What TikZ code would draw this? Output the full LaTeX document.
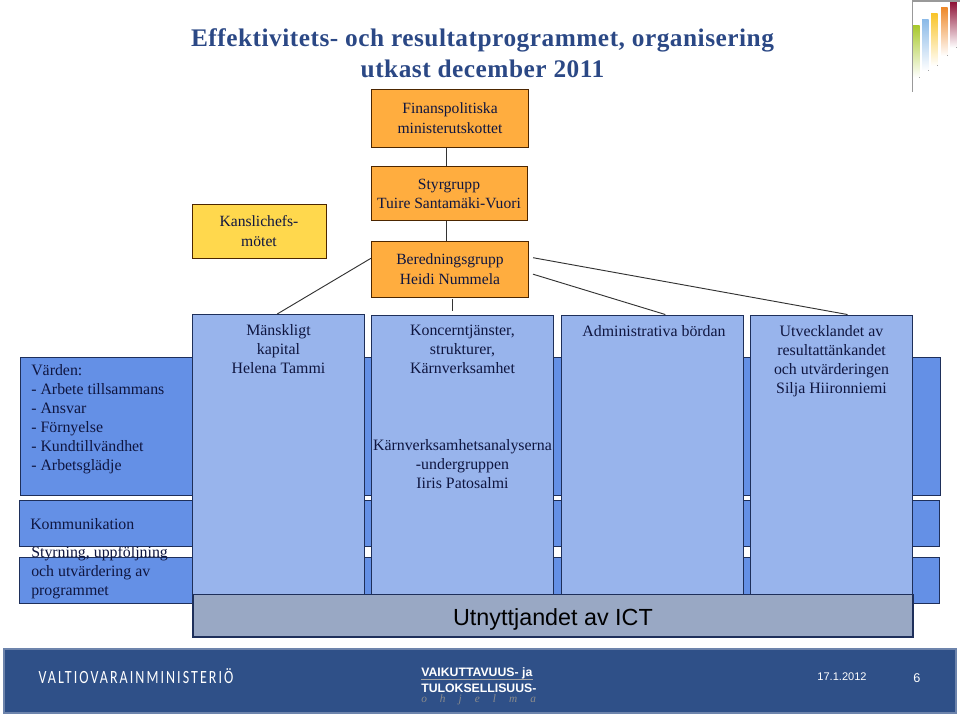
\documentclass[tikz,border=0pt]{standalone}
\usepackage{fontspec}
\setmainfont{Liberation Serif}
\setsansfont{Liberation Sans}
\newfontfamily\spaced[LetterSpace=11,FakeStretch=0.75]{Carlito}
\newfontfamily\headfont[LetterSpace=2]{Liberation Serif}
\usetikzlibrary{positioning}
\definecolor{ink}{HTML}{0F1640}
\definecolor{edge}{HTML}{1E2F5A}
\definecolor{rowblue}{HTML}{6490E6}
\definecolor{colblue}{HTML}{98B4EC}
\definecolor{slate}{HTML}{99A8C4}
\definecolor{orangebox}{HTML}{FFAD3F}
\definecolor{yellowbox}{HTML}{FFD84D}
\definecolor{footblue}{HTML}{2F5088}
\definecolor{titleblue}{HTML}{2B4885}
\tikzset{
box/.style={draw=#1,line width=.7pt,inner sep=0pt,text=ink,align=center},
rowbox/.style={box=edge,fill=rowblue,minimum width=690pt},
colbox/.style={box=edge,fill=colblue,minimum height=210pt},
govbox/.style={box=black!70!orange,fill=orangebox,minimum width=118pt,font=\fontsize{11.7pt}{15pt}\selectfont},
txt/.style={inner sep=0pt,text=ink,font=\fontsize{11.9pt}{14.25pt}\selectfont},
foot/.style={inner sep=0pt,text=white,font=\sffamily},
conn/.style={black!80,line width=.7pt}
}
\begin{document}
\begin{tikzpicture}[x=.75pt,y=-.75pt]
\useasboundingbox (0,0) rectangle (960,716);
% logo
\foreach \x/\t/\b/\c in {913/75/230/A9C92F,922/57/210/8DBBE8,931/39/195/F9C52C,941/21/165/EE8A2C,950/2/140/8E1136}{
\definecolor{barcol}{HTML}{\c}
\fill[top color=barcol,bottom color=white] (\x,{\t/3+1}) rectangle ++(6.5,{\b/3-\t/3});
}
\coordinate (logotop) at (960,1);
\coordinate (logobot) at (912.5,92);
\draw[black!40,line width=.8pt] (logotop) -| (logobot);
% title
\node[inner sep=0pt,align=center,text=titleblue,font=\headfont\bfseries\fontsize{19pt}{23pt}\selectfont] (title) at (482.5,53) {Effektivitets- och resultatprogrammet, organisering\\utkast december 2011};
% rows
\node[rowbox,minimum height=103.5pt] (varden) at (480.5,426) {};
\node[rowbox,minimum height=34.5pt] (styr) at (479.5,580) {};
\node[txt,anchor=north west,align=left] (styrtxt) at (31,546) {Styrning, uppföljning\\och utvärdering av\\programmet};
\node[rowbox,minimum height=35pt] (komm) at (479.5,523.5) {};
\node[txt,anchor=west] (kommtxt) at (30,524.5) {Kommunikation};
\node[txt,anchor=north west,align=left] (vardentxt) at (31,364.5) {Värden:\\- Arbete tillsammans\\- Ansvar\\- Förnyelse\\- Kundtillvändhet\\- Arbetsglädje};
% columns
\node[colbox,minimum width=128.5pt] (manskligt) at (278.5,454.5) {};
\node[colbox,minimum width=136pt] (koncern) at (462.5,455) {};
\node[colbox,minimum width=136.5pt] (admin) at (652,455) {};
\node[colbox,minimum width=121pt] (utveckling) at (831.5,455) {};
\node[box=edge,line width=1pt,fill=slate,minimum width=540pt,minimum height=32pt,font=\sffamily\fontsize{17.5pt}{20pt}\selectfont,text=black] (ict) at (553,615.5) {\raisebox{-7.5pt}[0pt][0pt]{Utnyttjandet av ICT}};
\node[txt,align=center,anchor=north] (manskligttxt) at (278.5,324) {Mänskligt\\kapital\\Helena Tammi};
\node[txt,align=center,anchor=north] (koncerntxt) at (462.5,325) {Koncerntjänster,\\strukturer,\\Kärnverksamhet};
\node[txt,align=center,anchor=north] (analystxt) at (462.5,439) {Kärnverksamhetsanalyserna\\-undergruppen\\Iiris Patosalmi};
\node[txt,align=center,anchor=north] (admintxt) at (654,325) {Administrativa bördan};
\node[txt,align=center,anchor=north] (utvecklingtxt) at (831.5,325) {Utvecklandet av\\resultattänkandet\\och utvärderingen\\Silja Hiironniemi};
% styrning
\node[govbox,minimum height=44pt] (finans) at (450,118.5) {Finanspolitiska\\ministerutskottet};
\node[govbox,minimum width=117pt,minimum height=41pt] (styrgrupp) at (449,193.5) {\raisebox{-.8pt}{Styrgrupp}\\Tuire Santamäki-Vuori};
\node[govbox,minimum height=42pt] (bered) at (450,269) {Beredningsgrupp\\Heidi Nummela};
\node[box=black!70!orange,fill=yellowbox,minimum width=100.5pt,minimum height=40.5pt,font=\fontsize{11.7pt}{15pt}\selectfont] (kansli) at (259,231) {Kanslichefs-\\mötet};
\draw[conn] ([xshift=-3pt]finans.south) -- ([xshift=-2.25pt]styrgrupp.north);
\draw[conn] ([xshift=-2.25pt]styrgrupp.south) -- ([xshift=-3pt]bered.north);
\draw[conn] ([xshift=1.5pt,yshift=-1.5pt]bered.south) -- ([xshift=-7.875pt,yshift=3pt]koncern.north);
\draw[conn] ([yshift=8pt]bered.west) -- ([xshift=-1pt]manskligt.north);
\draw[conn,shorten <=3pt] ([yshift=-3pt]bered.east) -- ([xshift=10pt]admin.north);
\draw[conn,shorten <=3pt] ([yshift=9pt]bered.east) -- ([xshift=12pt]utveckling.north);
% footer
\node[fill=footblue,draw=footblue!70!white,line width=.8pt,inner sep=0pt,minimum width=714pt,minimum height=48pt] (footer) at (480,681) {};
\node[inner sep=0pt,text=white,font=\spaced\fontsize{14pt}{14pt}\selectfont] (vm) at (136,676) {VALTIOVARAINMINISTERIÖ};
\node[foot,anchor=west,font=\sffamily\bfseries\fontsize{9.2pt}{10pt}\selectfont] (vaik) at (421,673) {VAIKUTTAVUUS- ja};
\node[foot,anchor=west,font=\sffamily\bfseries\fontsize{9.2pt}{10pt}\selectfont] (tul) at (421,688) {TULOKSELLISUUS-};
\draw[black!35,line width=.6pt] ([yshift=-.5pt]vaik.south west) -- ([yshift=-.5pt]vaik.south east);
\node[foot,anchor=west,text=black!45,font=\rmfamily\itshape\fontsize{8.5pt}{9pt}\selectfont] (ohj) at (421,700) {o\hspace{1.15em}h\hspace{1.15em}j\hspace{1.15em}e\hspace{1.15em}l\hspace{1.15em}m\hspace{1.15em}a};
\node[foot,font=\sffamily\fontsize{8.3pt}{10pt}\selectfont] (datum) at (842,677) {17.1.2012};
\node[foot,font=\sffamily\fontsize{9.5pt}{10pt}\selectfont] (sida) at (917,678) {6};
\end{tikzpicture}
\end{document}
